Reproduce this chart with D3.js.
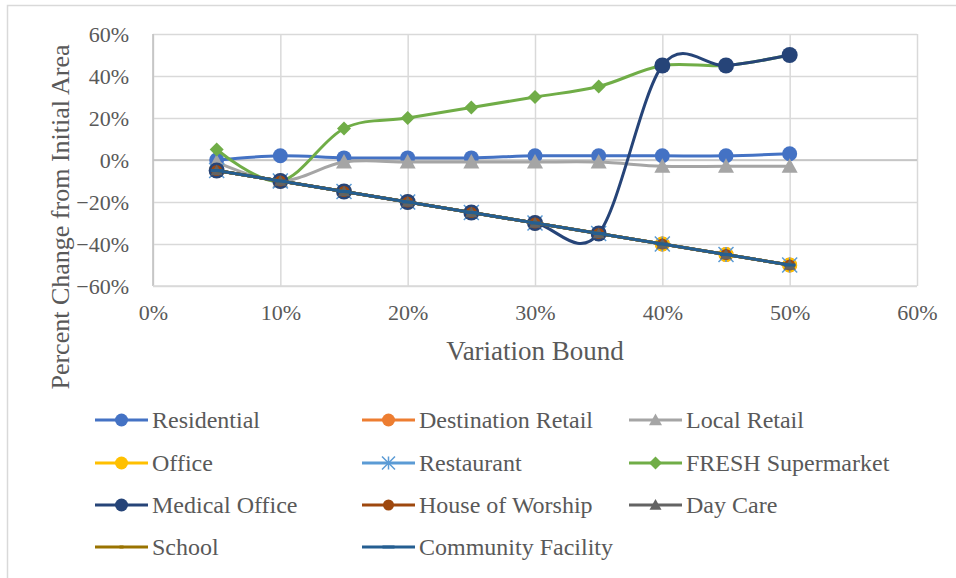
<!DOCTYPE html>
<html>
<head>
<meta charset="utf-8">
<script src="https://cdn.jsdelivr.net/npm/d3@7"></script>
<style>
  body { margin: 0; background: #fff; }
  text { font-family: "Liberation Serif", "Times New Roman", serif; fill: #595959; }
</style>
</head>
<body>
<div id="chart"></div>
<script>
// variation bounds (x) and tick values
var bounds = [0.05, 0.10, 0.15, 0.20, 0.25, 0.30, 0.35, 0.40, 0.45, 0.50];
var xTicks = [0, 0.1, 0.2, 0.3, 0.4, 0.5, 0.6];
var yTicks = [-0.6, -0.4, -0.2, 0, 0.2, 0.4, 0.6];

// percent change per series
var residential = [0.00, 0.02, 0.01, 0.01, 0.01, 0.02, 0.02, 0.02, 0.02, 0.03];
var destinationRetail = [-0.05, -0.10, -0.15, -0.20, -0.25, -0.30, -0.35, -0.40, -0.45, -0.50];
var localRetail = [-0.01, -0.10, -0.01, -0.01, -0.01, -0.01, -0.01, -0.03, -0.03, -0.03];
var office = [-0.05, -0.10, -0.15, -0.20, -0.25, -0.30, -0.35, -0.40, -0.45, -0.50];
var restaurant = [-0.05, -0.10, -0.15, -0.20, -0.25, -0.30, -0.35, -0.40, -0.45, -0.50];
var freshSupermarket = [0.05, -0.10, 0.15, 0.20, 0.25, 0.30, 0.35, 0.45, 0.45, 0.50];
var medicalOffice = [-0.05, -0.10, -0.15, -0.20, -0.25, -0.30, -0.35, 0.45, 0.45, 0.50];
var houseOfWorship = [-0.05, -0.10, -0.15, -0.20, -0.25, -0.30, -0.35, -0.40, -0.45, -0.50];
var dayCare = [-0.05, -0.10, -0.15, -0.20, -0.25, -0.30, -0.35, -0.40, -0.45, -0.50];
var school = [-0.05, -0.10, -0.15, -0.20, -0.25, -0.30, -0.35, -0.40, -0.45, -0.50];
var communityFacility = [-0.05, -0.10, -0.15, -0.20, -0.25, -0.30, -0.35, -0.40, -0.45, -0.50];

var series = [
  { name: "Residential", values: residential, color: "#4472C4", marker: "circle", size: 7.5 },
  { name: "Destination Retail", values: destinationRetail, color: "#ED7D31", marker: "circle", size: 7.5 },
  { name: "Local Retail", values: localRetail, color: "#A5A5A5", marker: "triangle", size: 8 },
  { name: "Office", values: office, color: "#FFC000", marker: "circle", size: 7.5 },
  { name: "Restaurant", values: restaurant, color: "#5B9BD5", marker: "star", size: 7.5 },
  { name: "FRESH Supermarket", values: freshSupermarket, color: "#70AD47", marker: "diamond", size: 7 },
  { name: "Medical Office", values: medicalOffice, color: "#264478", marker: "circle", size: 8 },
  { name: "House of Worship", values: houseOfWorship, color: "#9E480E", marker: "circle", size: 5.5 },
  { name: "Day Care", values: dayCare, color: "#636363", marker: "triangle", size: 6 },
  { name: "School", values: school, color: "#997300", marker: "dash", size: 2 },
  { name: "Community Facility", values: communityFacility, color: "#255E91", marker: "dash", size: 6 }
];

var width = 956, height = 578;
var margin = { top: 34, right: 39, bottom: 292, left: 153 };
var chartWidth = width - margin.left - margin.right;
var chartHeight = height - margin.top - margin.bottom;

var svg = d3.select("#chart").append("svg")
  .attr("width", width)
  .attr("height", height);

// outer chart border
svg.append("rect")
  .attr("x", 7.5).attr("y", 5.5)
  .attr("width", 960).attr("height", 600)
  .attr("fill", "none").attr("stroke", "#D9D9D9").attr("stroke-width", 1.5);

var g = svg.append("g")
  .attr("transform", `translate(${margin.left}, ${margin.top})`);

var xScale = d3.scaleLinear().domain([0, 0.6]).range([0, chartWidth]);
var yScale = d3.scaleLinear().domain([-0.6, 0.6]).range([chartHeight, 0]);

// gridlines + tick labels through axes
var xAxis = d3.axisBottom(xScale).tickValues(xTicks).tickSize(-chartHeight)
  .tickPadding(18).tickFormat(d3.format(".0%"));
var yAxis = d3.axisLeft(yScale).tickValues(yTicks).tickSize(-chartWidth)
  .tickPadding(24).tickFormat(d3.format(".0%"));

var gx = g.append("g").attr("class", "x axis")
  .attr("transform", `translate(0, ${chartHeight})`)
  .call(xAxis);
var gy = g.append("g").attr("class", "y axis").call(yAxis);

[gx, gy].forEach(function (ax) {
  ax.select(".domain").remove();
  ax.selectAll(".tick line").attr("stroke", "#D9D9D9").attr("stroke-width", 1.5);
  ax.selectAll(".tick text").style("font-size", "22px").attr("fill", "#595959")
    .style("font-family", '"Liberation Serif", serif');
});
gy.selectAll(".tick text").attr("dy", "0.35em");

// axis lines
g.append("line").attr("x1", 0).attr("x2", 0).attr("y1", 0).attr("y2", chartHeight)
  .attr("stroke", "#BFBFBF").attr("stroke-width", 1.5);
g.append("line").attr("x1", 0).attr("x2", chartWidth).attr("y1", chartHeight).attr("y2", chartHeight)
  .attr("stroke", "#D9D9D9").attr("stroke-width", 1.5);
g.append("line").attr("x1", 0).attr("x2", chartWidth).attr("y1", yScale(0)).attr("y2", yScale(0))
  .attr("stroke", "#BFBFBF").attr("stroke-width", 1.5);

// axis titles
svg.append("text")
  .attr("x", margin.left + xScale(0.3)).attr("y", 360)
  .attr("text-anchor", "middle").style("font-size", "27px")
  .text("Variation Bound");
svg.append("text")
  .attr("transform", "translate(69, 217) rotate(-90)")
  .attr("text-anchor", "middle").style("font-size", "26px")
  .text("Percent Change from Initial Area");

function drawMarker(sel, s) {
  var r = s.size;
  if (s.marker === "circle") {
    sel.append("circle").attr("r", r).attr("fill", s.color);
  } else if (s.marker === "triangle") {
    sel.append("path").attr("d", `M0,${-r}L${r},${r * 0.8}L${-r},${r * 0.8}Z`).attr("fill", s.color);
  } else if (s.marker === "diamond") {
    sel.append("path").attr("d", `M0,${-r}L${r},0L0,${r}L${-r},0Z`).attr("fill", s.color);
  } else if (s.marker === "star") {
    sel.append("path")
      .attr("d", `M${-r},${-r}L${r},${r}M${-r},${r}L${r},${-r}M0,${-r}L0,${r}`)
      .attr("stroke", s.color).attr("stroke-width", 1.5).attr("fill", "none");
  } else if (s.marker === "dash") {
    sel.append("rect").attr("x", -r).attr("y", -1.5).attr("width", 2 * r).attr("height", 3).attr("fill", s.color);
  }
}

var line = d3.line()
  .x(d => xScale(d.x))
  .y(d => yScale(d.y))
  .curve(d3.curveCardinal.tension(0));

var plot = g.append("g").attr("class", "series");
series.forEach(function (s) {
  var pts = bounds.map((b, i) => ({ x: b, y: s.values[i] }));
  var sg = plot.append("g");
  sg.append("path")
    .datum(pts)
    .attr("d", line)
    .attr("fill", "none")
    .attr("stroke", s.color)
    .attr("stroke-width", 3)
    .attr("stroke-linecap", "round");
  sg.selectAll(".marker")
    .data(pts)
    .enter()
    .append("g")
    .attr("class", "marker")
    .attr("transform", d => `translate(${xScale(d.x)}, ${yScale(d.y)})`)
    .each(function () { drawMarker(d3.select(this), s); });
});

// legend, three columns
var legend = svg.append("g").attr("class", "legend");
var colX = [95, 362, 629];
var rowY = [420, 463, 505, 547];
series.forEach(function (s, i) {
  var lg = legend.append("g")
    .attr("transform", `translate(${colX[i % 3]}, ${rowY[Math.floor(i / 3)]})`);
  lg.append("line").attr("x1", 0).attr("x2", 53).attr("y1", 0).attr("y2", 0)
    .attr("stroke", s.color).attr("stroke-width", 3);
  var m = lg.append("g").attr("transform", "translate(26.5, 0)");
  drawMarker(m, Object.assign({}, s, { size: Math.min(s.size, 6.5) }));
  lg.append("text").attr("x", 57).attr("y", 0).attr("dy", "0.35em")
    .style("font-size", "24px").text(s.name);
});
</script>
</body>
</html>
